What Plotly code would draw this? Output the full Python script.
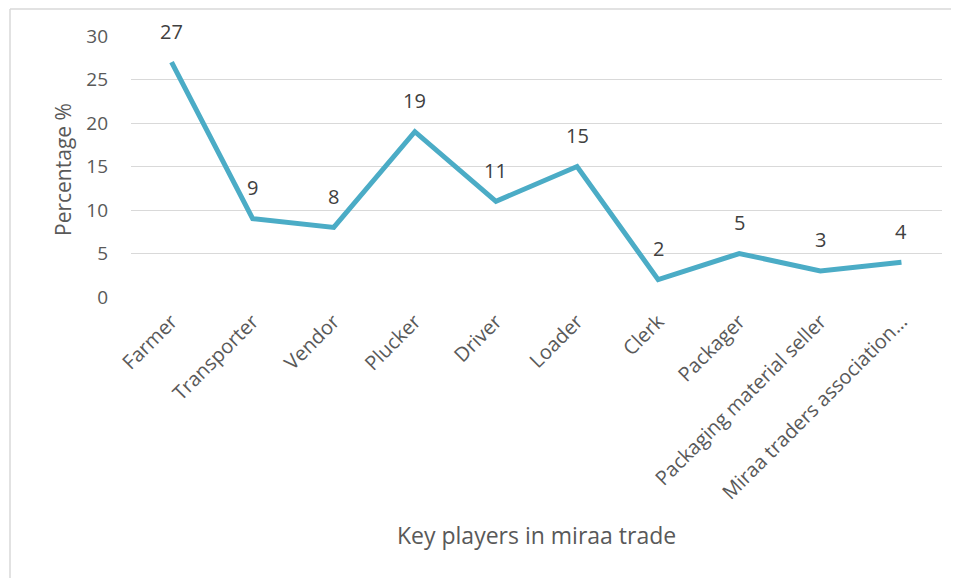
import plotly.graph_objects as go

players = [
    "Farmer", "Transporter", "Vendor", "Plucker", "Driver", "Loader",
    "Clerk", "Packager", "Packaging material seller", "Miraa traders association…",
]
percentages = [27, 9, 8, 19, 11, 15, 2, 5, 3, 4]

W, H = 959, 578
OFF = 8  # page body margin shifts the figure by 8px
# plot area in screen pixels: x 131..942, y 36..297
PL, PR, PT, PB = 131, 942, 36, 297
L, T = PL - OFF, PT - OFF
R, B = W - (PR - OFF), H - (PB - OFF)
PW, PH = PR - PL, PB - PT


def px_x(v):
    return (v - PL) / PW


def px_y(v):
    return (PB - v) / PH


FONT = "'Open Sans', sans-serif"
GREY = "#595959"

fig = go.Figure(
    go.Scatter(
        x=players,
        y=percentages,
        mode="lines",
        line=dict(color="#4BACC6", width=5),
        hoverinfo="x+y",
    )
)

for name, val in zip(players, percentages):
    fig.add_annotation(
        x=name, y=val, text=str(val), showarrow=False,
        yshift=31, font=dict(family=FONT, size=20, color="#404040"),
    )

# axis titles placed by hand
fig.add_annotation(xref="paper", yref="paper", x=px_x(63), y=px_y(170),
                   xanchor="center", yanchor="middle",
                   text="Percentage %", textangle=-90, showarrow=False,
                   font=dict(family=FONT, size=21, color=GREY))
fig.add_annotation(xref="paper", yref="paper", x=px_x(536), y=px_y(535),
                   xanchor="center", yanchor="middle",
                   text="Key players in miraa trade", showarrow=False,
                   font=dict(family=FONT, size=23, color=GREY))

# chart frame (only top and left edges visible in the crop)
frame = dict(color="#D9D9D9", width=1.5)
fig.add_shape(type="line", xref="paper", yref="paper",
              x0=px_x(10), x1=px_x(W + OFF), y0=px_y(OFF + 1), y1=px_y(OFF + 1), line=frame)
fig.add_shape(type="line", xref="paper", yref="paper",
              x0=px_x(10), x1=px_x(10), y0=px_y(OFF + 1), y1=px_y(H + OFF), line=frame)

fig.update_layout(
    width=W, height=H,
    margin=dict(l=L, r=R, t=T, b=B, autoexpand=False),
    plot_bgcolor="white", paper_bgcolor="white",
    showlegend=False,
    font=dict(family=FONT, color=GREY),
)
fig.update_xaxes(
    type="category", range=[-0.5, 9.5], automargin=False,
    tickangle=-45, tickfont=dict(size=20, color=GREY),
    showgrid=False, showline=False, ticks="", ticklabelstandoff=8,
)
fig.update_yaxes(
    range=[0, 30], dtick=5, automargin=False, tickfont=dict(size=19, color=GREY),
    gridcolor="#D9D9D9", gridwidth=1, zeroline=False, showline=False,
    ticks="", ticklabelstandoff=22,
)

fig.write_html("out.html")
